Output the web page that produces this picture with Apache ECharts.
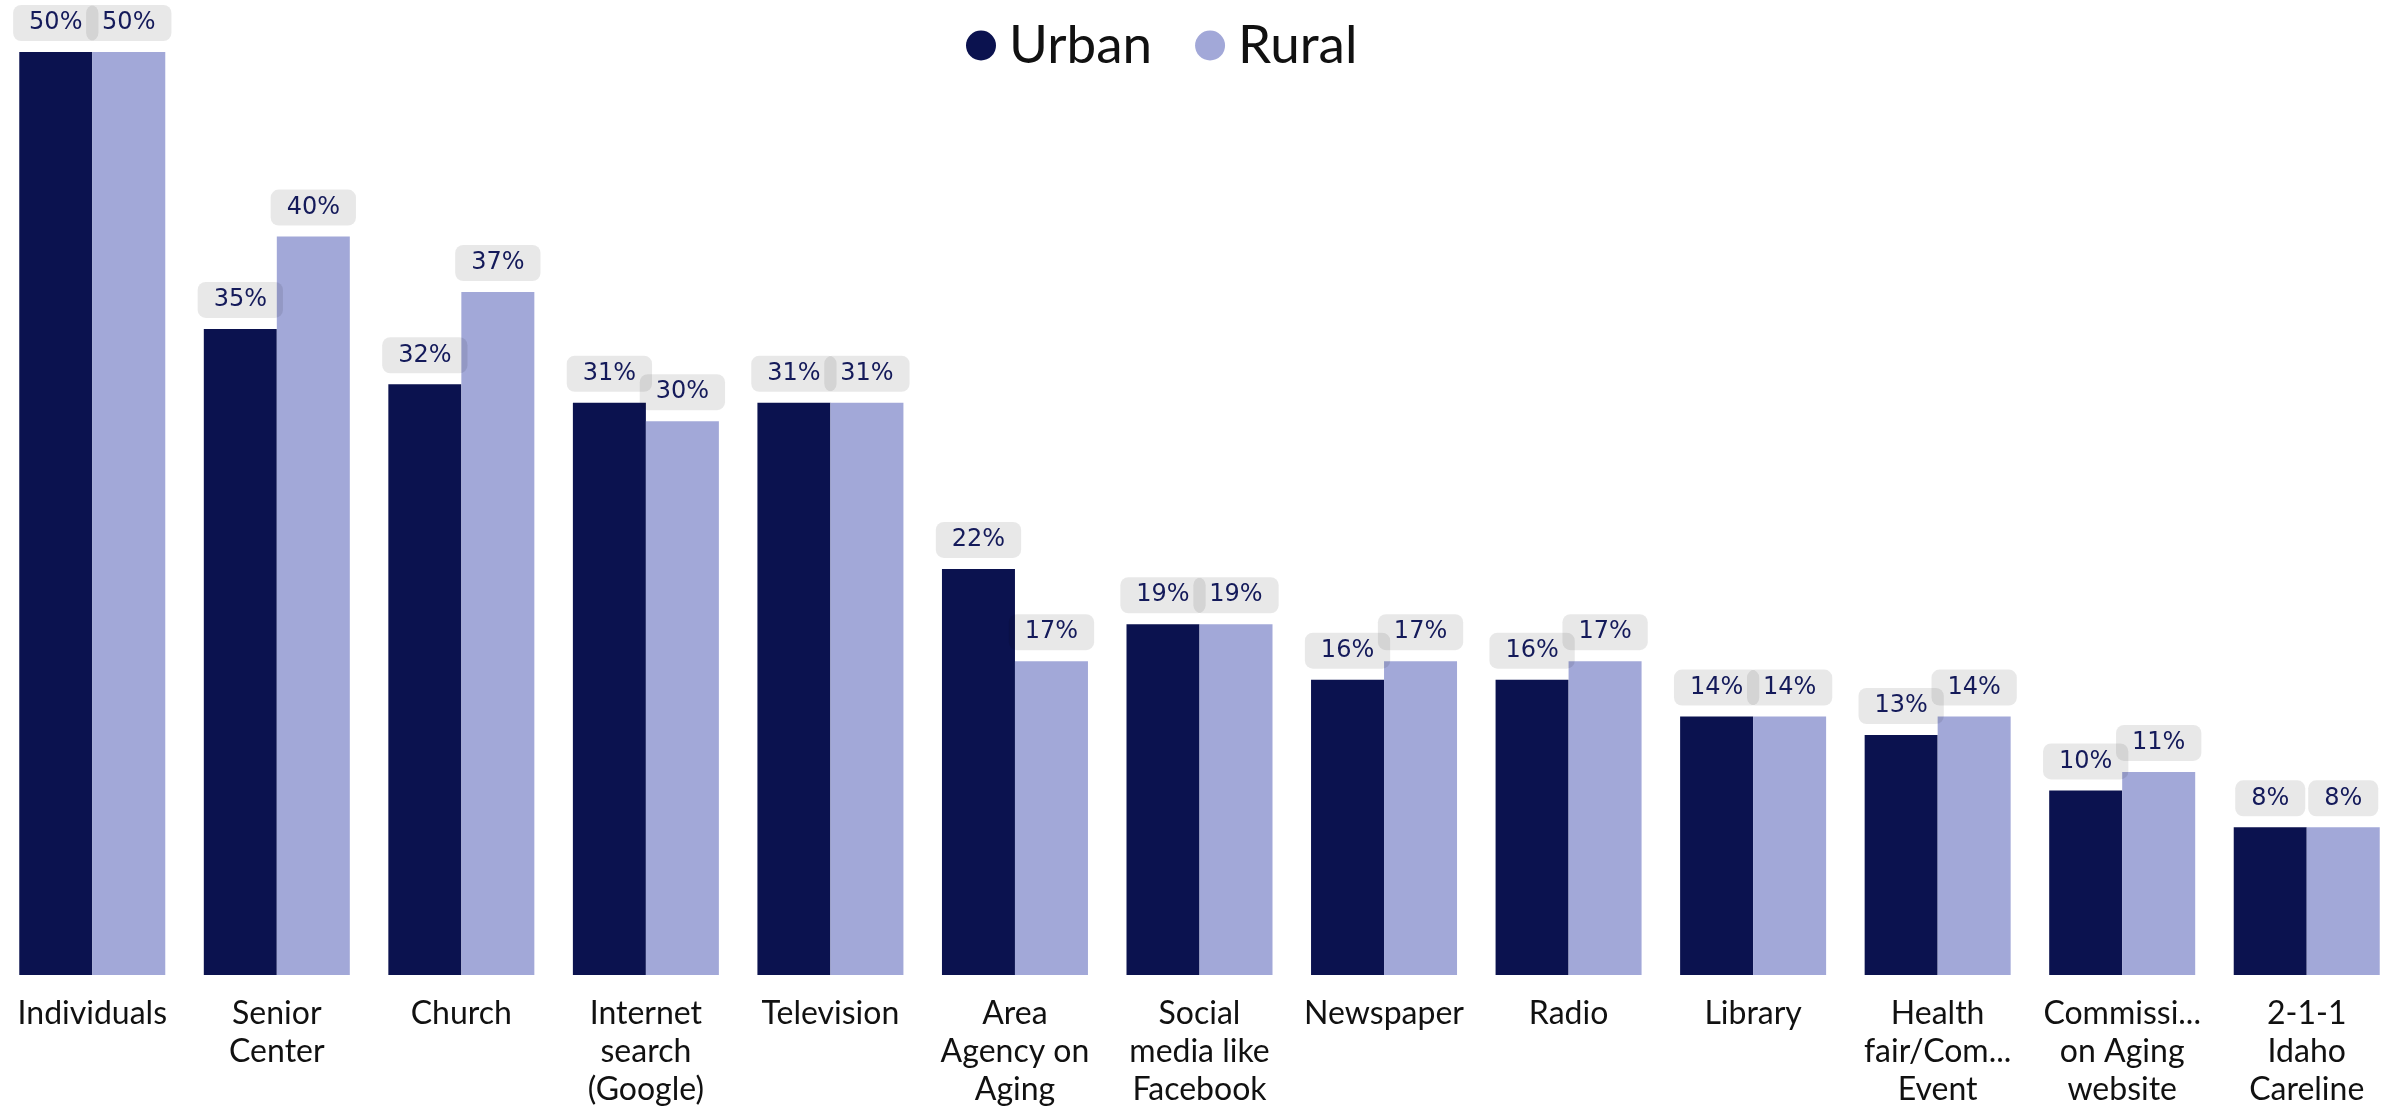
<!DOCTYPE html>
<html>
<head>
<meta charset="utf-8">
<script src="https://cdn.jsdelivr.net/npm/echarts@6/dist/echarts.min.js"></script>
<style>
  html, body { margin: 0; padding: 0; background: #fff; }
  #chart { width: 2394px; height: 1107px; }
</style>
</head>
<body>
<div id="chart"></div>
<script>
const categories = [
  'Individuals',
  'Senior\nCenter',
  'Church',
  'Internet\nsearch\n(Google)',
  'Television',
  'Area\nAgency on\nAging',
  'Social\nmedia like\nFacebook',
  'Newspaper',
  'Radio',
  'Library',
  'Health\nfair/Com...\nEvent',
  'Commissi...\non Aging\nwebsite',
  '2-1-1\nIdaho\nCareline'
]
const urban = [50, 35, 32, 31, 31, 22, 19, 16, 16, 14, 13, 10, 8]
const rural = [50, 40, 37, 30, 31, 17, 19, 17, 17, 14, 14, 11, 8]

const labelStyle = {
  show: true,
  position: 'top',
  distance: 11,
  formatter: '{c}%',
  fontFamily: 'DejaVu Sans',
  fontSize: 24,
  color: '#141a5a',
  backgroundColor: 'rgba(0, 0, 0, 0.09)',
  borderRadius: 8,
  padding: [6, 16, 6, 16]
}

const chart = echarts.init(document.getElementById('chart'))
chart.setOption({
  animation: false,
  legend: {
    left: 961,
    top: 14,
    icon: 'circle',
    itemWidth: 30,
    itemHeight: 30,
    itemGap: 43,
    textStyle: { fontFamily: 'Lato', fontSize: 53, color: '#111', padding: [0, 0, 0, 8] },
    data: ['Urban', 'Rural']
  },
  grid: { left: 0, top: 52, width: 2399, bottom: 132, outerBoundsMode: 'none', containLabel: false },
  xAxis: {
    type: 'category',
    data: categories,
    axisLine: { show: false },
    axisTick: { show: false },
    axisLabel: {
      interval: 0,
      margin: 20,
      fontFamily: 'Lato',
      fontSize: 32,
      lineHeight: 38,
      color: '#111'
    }
  },
  yAxis: { type: 'value', min: 0, max: 50, show: false, splitLine: { show: false } },
  series: [
    {
      name: 'Urban',
      type: 'bar',
      data: urban,
      barWidth: 73,
      barGap: 0,
      itemStyle: { color: '#0b124f' },
      label: labelStyle
    },
    {
      name: 'Rural',
      type: 'bar',
      data: rural,
      barWidth: 73,
      barGap: 0,
      itemStyle: { color: '#a2a8d8' },
      label: labelStyle
    }
  ]
})
</script>
</body>
</html>
